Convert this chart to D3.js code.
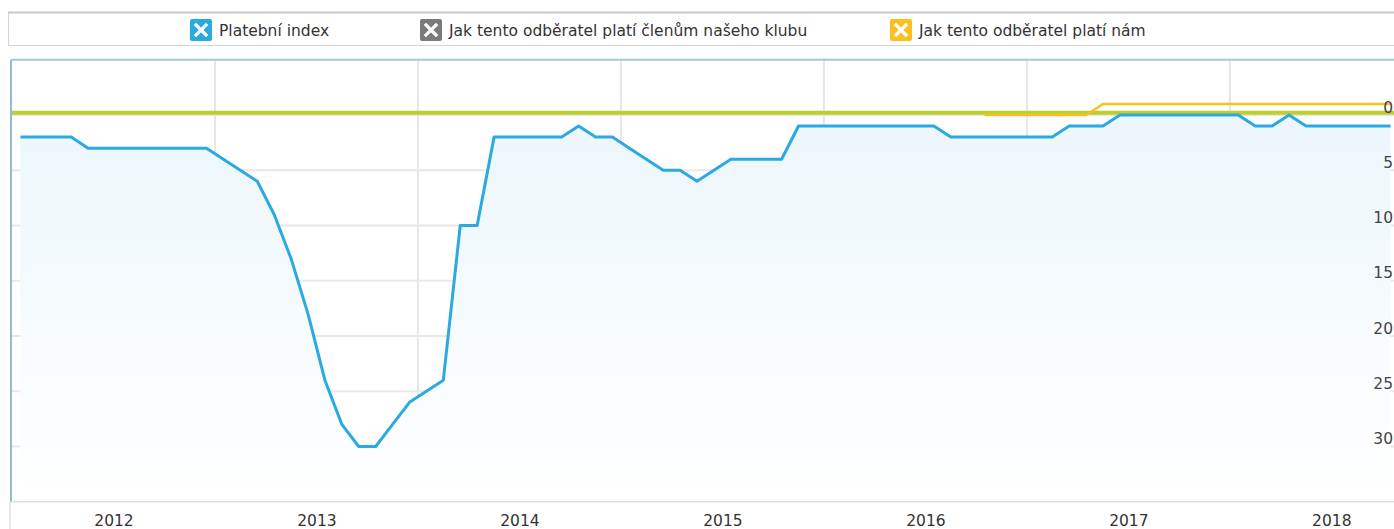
<!DOCTYPE html>
<html>
<head>
<meta charset="utf-8">
<script src="https://cdn.jsdelivr.net/npm/d3@7"></script>
<style>
  body { margin: 0; background: #fff; }
  svg { display: block; font-family: "DejaVu Sans", Verdana, sans-serif; }
</style>
</head>
<body>
<div id="chart"></div>
<script>
// data
const months = d3.timeMonth.range(new Date(2012, 0, 1), new Date(2018, 10, 1)); // 2012-01 .. 2018-10
const years = [2012, 2013, 2014, 2015, 2016, 2017, 2018];
const yTicks = [0, 5, 10, 15, 20, 25, 30];

// Platební index, one value per month
const platebniIndex = [2, 2, 2, 2, 3, 3, 3, 3, 3, 3, 3, 3,
    4, 5, 6, 9, 13, 18, 24, 28, 30, 30, 28, 26,
    25, 24, 10, 10, 2, 2, 2, 2, 2, 1, 2, 2,
    3, 4, 5, 5, 6, 5, 4, 4, 4, 4, 1, 1,
    1, 1, 1, 1, 1, 1, 1, 2, 2, 2, 2, 2,
    2, 2, 1, 1, 1, 0, 0, 0, 0, 0, 0, 0,
    0, 1, 1, 0, 1, 1, 1, 1, 1, 1];

// Jak tento odběratel platí nám (from 2016-10)
const namStart = new Date(2016, 9, 1);
const namValues = [0, 0, 0, 0, 0, 0, 0, -1, -1, -1, -1, -1, -1, -1, -1, -1, -1, -1, -1, -1, -1, -1, -1, -1, -1];

// Jak tento odběratel platí členům našeho klubu (flat line)
const clenumValue = -0.2;

const legendItems = [
    { name: "Platební index", color: "#2ba9e1" },
    { name: "Jak tento odběratel platí členům našeho klubu", color: "#7b7b7b" },
    { name: "Jak tento odběratel platí nám", color: "#fbc020" }
];
const legendX = [190, 420, 890];

// ----------------------------------------------------------

const width = 1394;
const height = 529;
const plot = { left: 11, right: 1399, top: 59.75, bottom: 501.75 };

const svg = d3.select("#chart").append("svg").attr("width", width).attr("height", height);

const defs = svg.append("defs");
const grad = defs.append("linearGradient").attr("id", "areaFill")
    .attr("x1", 0).attr("y1", 0).attr("x2", 0).attr("y2", 1);
grad.append("stop").attr("offset", "0%").attr("stop-color", "#ecf6fb");
grad.append("stop").attr("offset", "100%").attr("stop-color", "#ffffff");

// scales
const x = d3.scaleLinear().domain([0, months.length]).range([plot.left + 1, plot.right]);
const y = d3.scaleLinear().domain([-5, 35]).range([plot.top, plot.bottom]);
const monthIndex = d => d3.timeMonth.count(months[0], d);

// legend
const legend = svg.append("g").attr("class", "legend");
legend.append("rect").attr("x", 8.5).attr("y", 12.5).attr("width", 1400).attr("height", 33)
    .attr("fill", "#fff").attr("stroke", "#d4d4d4");
legend.append("line").attr("x1", 8).attr("x2", width).attr("y1", 12.5).attr("y2", 12.5)
    .attr("stroke", "#c8c8c8").attr("stroke-width", 2);
const items = legend.selectAll("g.item").data(legendItems).enter().append("g")
    .attr("class", "item")
    .attr("transform", (d, i) => `translate(${legendX[i]}, 19)`);
items.append("rect").attr("width", 22).attr("height", 22).attr("rx", 2).attr("fill", d => d.color);
items.append("path").attr("d", "M6,6 L16,16 M16,6 L6,16")
    .attr("stroke", "#fff").attr("stroke-width", 3.2).attr("stroke-linecap", "square");
items.append("text").attr("x", 29).attr("y", 16.5).attr("font-size", 15.5).attr("fill", "#333")
    .text(d => d.name);

// grid
const grid = svg.append("g").attr("class", "grid");
grid.selectAll("line.v").data(years.slice(1)).enter().append("line")
    .attr("x1", d => x((d - years[0]) * 12)).attr("x2", d => x((d - years[0]) * 12))
    .attr("y1", plot.top).attr("y2", plot.bottom)
    .attr("stroke", "#e6e6e6").attr("stroke-width", 2);
grid.selectAll("line.h").data(yTicks).enter().append("line")
    .attr("x1", plot.left).attr("x2", width)
    .attr("y1", d => y(d)).attr("y2", d => y(d))
    .attr("stroke", "#e8e8e8").attr("stroke-width", 2);

// area + line
const seriesIdx = platebniIndex.map((v, i) => ({ i: i + 0.5, v: v }));
const area = d3.area().x(d => x(d.i)).y0(plot.bottom).y1(d => y(d.v));
svg.append("path").datum(seriesIdx).attr("d", area).attr("fill", "url(#areaFill)");

// reference line
svg.append("line").attr("x1", plot.left).attr("x2", width)
    .attr("y1", y(clenumValue)).attr("y2", y(clenumValue))
    .attr("stroke", "#bccf2c").attr("stroke-width", 4);

const line = d3.line().x(d => x(d.i)).y(d => y(d.v));
svg.append("path").datum(seriesIdx).attr("d", line)
    .attr("fill", "none").attr("stroke", "#2ba9e1").attr("stroke-width", 3)
    .attr("stroke-linejoin", "round");

const namStartIdx = monthIndex(namStart);
const namData = namValues.map((v, i) => ({ i: namStartIdx + i + 0.5, v: v }));
svg.append("path").datum(namData).attr("d", line)
    .attr("fill", "none").attr("stroke", "#fbc020").attr("stroke-width", 2.5);

// borders
svg.append("line").attr("x1", plot.left).attr("x2", width).attr("y1", plot.top).attr("y2", plot.top)
    .attr("stroke", "#a9c8d6").attr("stroke-width", 2);
svg.append("line").attr("x1", plot.left).attr("x2", plot.left).attr("y1", plot.top).attr("y2", plot.bottom)
    .attr("stroke", "#8fbdd2").attr("stroke-width", 2);
svg.append("line").attr("x1", plot.left).attr("x2", width).attr("y1", plot.bottom).attr("y2", plot.bottom)
    .attr("stroke", "#e0e0e0").attr("stroke-width", 1.5);
svg.append("line").attr("x1", plot.left - 1).attr("x2", plot.left - 1).attr("y1", plot.bottom).attr("y2", height)
    .attr("stroke", "#e0e0e0").attr("stroke-width", 1.5);

// axes
const xAxis = d3.axisBottom(x)
    .tickValues(years.map(d => (d - years[0]) * 12 + 6))
    .tickFormat(d => years[0] + Math.floor(d / 12))
    .tickSize(0).tickPadding(13);
const xAxisGroup = svg.append("g").attr("transform", `translate(0, ${plot.bottom})`).call(xAxis)
    .attr("font-family", null).attr("font-size", 15.5);
xAxisGroup.select(".domain").remove();
xAxisGroup.selectAll("text").attr("fill", "#333");

const yAxis = d3.axisLeft(y).tickValues(yTicks).tickSize(0).tickPadding(1);
const yAxisGroup = svg.append("g").attr("transform", `translate(${width}, 0)`).call(yAxis)
    .attr("font-family", null).attr("font-size", 15.5);
yAxisGroup.select(".domain").remove();
yAxisGroup.selectAll("text").attr("fill", "#444").attr("dy", "-0.18em");
</script>
</body>
</html>
